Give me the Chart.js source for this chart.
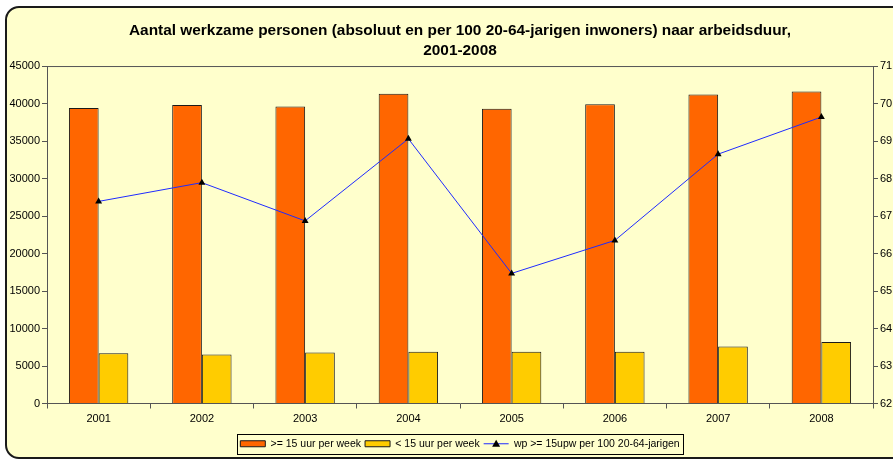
<!DOCTYPE html>
<html>
<head>
<meta charset="utf-8">
<script src="https://cdn.jsdelivr.net/npm/chart.js@4"></script>
<style>
  html, body { margin: 0; padding: 0; background: #fff; overflow: hidden; width: 893px; height: 459px; }
  #box { position: absolute; left: 5px; top: 6px; width: 960px; height: 449px; border: 2px solid #1a1a1a; border-radius: 14px; background: #ffffcc; }
  #wrap { position: absolute; left: 7px; top: 7px; width: 906px; height: 452px; }
</style>
</head>
<body>
<div id="box"></div>
<div id="wrap"><canvas id="chart"></canvas></div>
<script>
// data
const years = ["2001", "2002", "2003", "2004", "2005", "2006", "2007", "2008"]
const fullTime = [39400, 39800, 39600, 41300, 39300, 39900, 41200, 41600]
const partTime = [6700, 6550, 6800, 6900, 6900, 6900, 7600, 8200]
const perHundred = [67.39, 67.89, 66.87, 69.06, 65.47, 66.35, 68.65, 69.64]

const titleLines = ["Aantal werkzame personen (absoluut en per 100 20-64-jarigen inwoners) naar arbeidsduur,", "2001-2008"]
const seriesNames = [">= 15 uur per week", "< 15 uur per week", "wp >= 15upw per 100 20-64-jarigen"]

const font = "'Liberation Sans', Arial, sans-serif"
const axisColor = "#555"

// plot frame top line + legend frame + line sample in the legend
const extras = {
    id: "extras",
    afterDraw(chart){
        const ctx = chart.ctx
        const a = chart.chartArea
        ctx.save()
        ctx.strokeStyle = axisColor
        ctx.lineWidth = 1
        ctx.beginPath()
        ctx.moveTo(a.left, a.top + 0.5)
        ctx.lineTo(a.right, a.top + 0.5)
        ctx.stroke()

        const boxes = chart.legend.legendHitBoxes
        const items = chart.legend.legendItems
        if (boxes && boxes.length) {
            const cy = boxes[0].top + boxes[0].height / 2
            const left = boxes[0].left - 3
            const last = boxes[boxes.length - 1]
            const right = last.left + last.width + 4
            ctx.strokeStyle = "#000"
            ctx.strokeRect(Math.round(left) + 0.5, Math.round(cy - 10) + 0.5, Math.round(right - left), 20)

            const idx = items.findIndex(it => it.datasetIndex === 2)
            const lb = boxes[idx]
            const bw = chart.legend.options.labels.boxWidth
            ctx.strokeStyle = "#1f2bff"
            ctx.beginPath()
            ctx.moveTo(lb.left, cy)
            ctx.lineTo(lb.left + bw, cy)
            ctx.stroke()
            ctx.fillStyle = "#000"
            const mx = lb.left + bw / 2
            ctx.beginPath()
            ctx.moveTo(mx, cy - 4)
            ctx.lineTo(mx + 4, cy + 3)
            ctx.lineTo(mx - 4, cy + 3)
            ctx.closePath()
            ctx.fill()
        }
        ctx.restore()
    }
}

const plainTick = v => String(v)

const chart = new Chart(document.getElementById("chart"), {
    type: "bar",
    data: {
        labels: years,
        datasets: [
            {
                label: seriesNames[0],
                data: fullTime,
                backgroundColor: "#ff6600",
                borderColor: "#1a1a1a",
                borderWidth: 1,
                yAxisID: "y",
                categoryPercentage: 0.575,
                barPercentage: 1
            },
            {
                label: seriesNames[1],
                data: partTime,
                backgroundColor: "#ffcc00",
                borderColor: "#1a1a1a",
                borderWidth: 1,
                yAxisID: "y",
                categoryPercentage: 0.575,
                barPercentage: 1
            },
            {
                type: "line",
                label: seriesNames[2],
                data: perHundred,
                borderColor: "#1f2bff",
                backgroundColor: "#000",
                borderWidth: 1,
                pointStyle: "triangle",
                pointRadius: 4,
                pointBackgroundColor: "#000",
                pointBorderColor: "#000",
                pointBorderWidth: 0,
                yAxisID: "y1",
                order: -1
            }
        ]
    },
    options: {
        responsive: true,
        maintainAspectRatio: false,
        animation: false,
        layout: { padding: 0 },
        plugins: {
            title: {
                display: true,
                text: titleLines,
                color: "#000",
                font: { family: font, size: 15.4, weight: "bold", lineHeight: 1.3 },
                padding: { top: 14, bottom: 5 }
            },
            legend: {
                position: "bottom",
                labels: {
                    color: "#000",
                    font: { family: font, size: 10.5 },
                    boxWidth: 25,
                    boxHeight: 6,
                    padding: 4,
                    generateLabels(c){
                        const items = Chart.defaults.plugins.legend.labels.generateLabels(c)
                        items.sort((p, q) => p.datasetIndex - q.datasetIndex)
                        for (const it of items) {
                            if (it.datasetIndex === 2) {
                                it.fillStyle = "rgba(0,0,0,0)"
                                it.strokeStyle = "rgba(0,0,0,0)"
                                it.lineWidth = 0
                            }
                        }
                        return items
                    }
                }
            },
            tooltip: { enabled: false }
        },
        scales: {
            x: {
                grid: { display: true, drawOnChartArea: false, drawTicks: true, tickLength: 5, color: axisColor, offset: true },
                border: { display: true, color: axisColor },
                ticks: { color: "#000", font: { family: font, size: 11 }, padding: 4, maxRotation: 0 },
                afterFit(scale){ scale.height = 31 }
            },
            y: {
                position: "left",
                min: 0,
                max: 45000,
                ticks: { stepSize: 5000, color: "#000", font: { family: font, size: 11 }, padding: 2, callback: plainTick },
                grid: { drawOnChartArea: false, tickLength: 5, color: axisColor },
                border: { display: true, color: axisColor },
                afterFit(scale){ scale.width = 40 }
            },
            y1: {
                position: "right",
                min: 62,
                max: 71,
                ticks: { stepSize: 1, color: "#000", font: { family: font, size: 11 }, padding: 2, callback: plainTick },
                grid: { drawOnChartArea: false, tickLength: 5, color: axisColor },
                border: { display: true, color: axisColor },
                afterFit(scale){ scale.width = 40 }
            }
        }
    },
    plugins: [extras]
})
</script>
</body>
</html>
